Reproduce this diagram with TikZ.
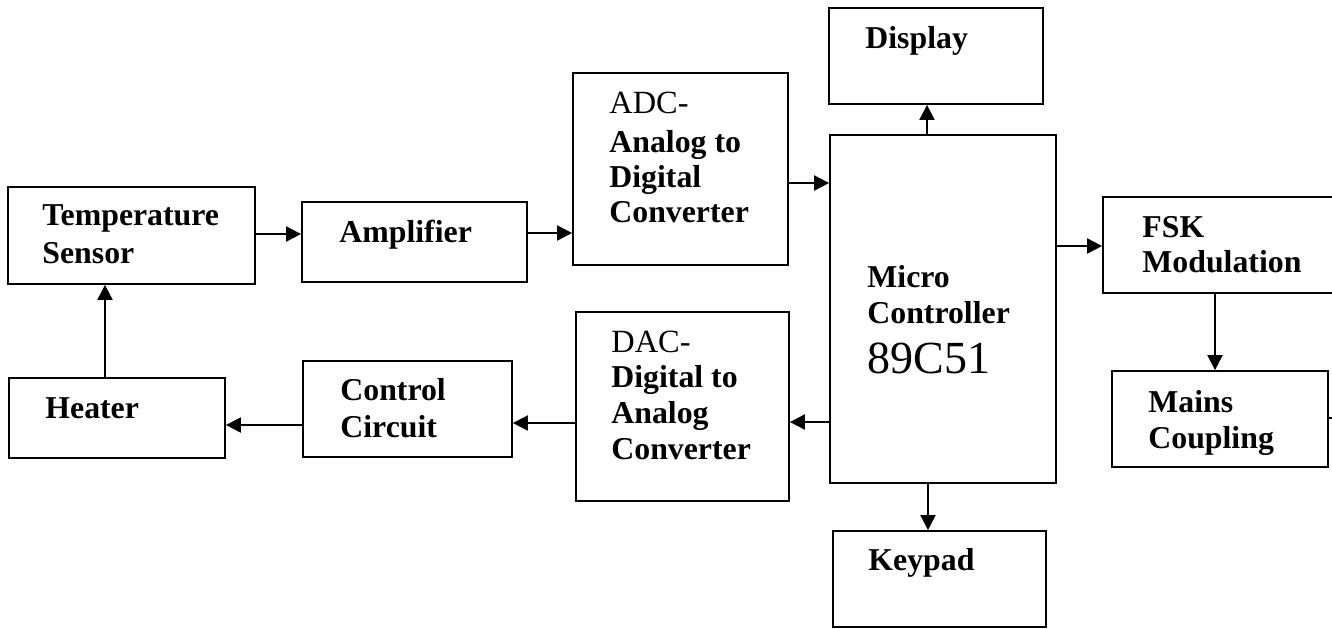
\documentclass[tikz,border=0pt]{standalone}
\usepackage{fontspec}
\setmainfont{Liberation Serif}
\usetikzlibrary{arrows.meta}

% a block drawn from its corner coordinates: name, x1, y1, x2, y2
\newcommand\blk[5]{%
  \node[blockbox, minimum width={(#4-#2)*0.5pt}, minimum height={(#5-#3)*0.5pt}]
    (#1) at ({(#2+#4)/2},{(#3+#5)/2}) {};}

\tikzset{
  blockbox/.style={draw, rectangle, line width=0.9pt, inner sep=0pt},
  % labels are placed by the baseline of their last line
  lbl/.style={anchor=base west, inner sep=0pt, align=left,
    font=\fontsize{15.9}{18}\selectfont\bfseries},
  plain/.style={anchor=base west, inner sep=0pt,
    font=\fontsize{16.2}{18}\selectfont},
  big/.style={anchor=base west, inner sep=0pt,
    font=\fontsize{23}{25}\selectfont},
  arr/.style={line width=1pt, -{Triangle[length=7.5pt,width=7.5pt]}},
  wire/.style={line width=1pt}
}

\begin{document}
\begin{tikzpicture}[x=0.5pt,y=-0.5pt]
\useasboundingbox (0,0) rectangle (1332,628);

% blocks
\blk{temp}{8}{187}{255}{284}
\blk{amp}{302}{202}{527}{282}
\blk{adc}{573}{73}{788}{265}
\blk{disp}{829}{8}{1043}{104}
\blk{mcu}{830}{135}{1056}{483}
\blk{fsk}{1103}{197}{1350}{293}
\blk{mains}{1112}{371}{1328}{467}
\blk{heater}{9}{378}{225}{458}
\blk{ctrl}{303}{361}{512}{457}
\blk{dac}{576}{312}{789}{501}
\blk{keypad}{833}{531}{1046}{627}

% labels
\node[lbl] (tTemp) at (42,263) {Temperature\\[1pt]Sensor};
\node[lbl] (tAmp) at (339,242) {Amplifier};
\node[plain] (tAdc) at (609,113) {ADC-};
\node[lbl] (tAdc2) at (609,222) {Analog to\\[-0.5pt]Digital\\[-0.5pt]Converter};
\node[lbl] (tDisp) at (865,48) {Display};
\node[lbl] (tMcu) at (867,323) {Micro\\Controller};
\node[big] (tMcu2) at (867,373) {89C51};
\node[lbl] (tFsk) at (1142,272) {FSK\\[-0.5pt]Modulation};
\node[lbl] (tMains) at (1148,448) {Mains\\Coupling};
\node[lbl] (tHeat) at (45,418) {Heater};
\node[lbl] (tCtrl) at (340,437) {Control\\[0.5pt]Circuit};
\node[plain] (tDac) at (611,352) {DAC-};
\node[lbl] (tDac2) at (611,459) {Digital to\\Analog\\Converter};
\node[lbl] (tKey) at (868,570) {Keypad};

% connectors
\draw[arr] (temp.east |- 0,234) -- (amp.west |- 0,234);
\draw[arr] (amp.east |- 0,233) -- (adc.west |- 0,233);
\draw[arr] (adc.east |- 0,183) -- (mcu.west |- 0,183);
\draw[arr] (mcu.north -| 927,0) -- (disp.south -| 927,0);
\draw[arr] (mcu.east |- 0,246) -- (fsk.west |- 0,246);
\draw[arr] (fsk.south -| 1215,0) -- (mains.north -| 1215,0);
\draw[arr] (mcu.west |- 0,422) -- (dac.east |- 0,422);
\draw[arr] (dac.west |- 0,423) -- (ctrl.east |- 0,423);
\draw[arr] (ctrl.west |- 0,425) -- (heater.east |- 0,425);
\draw[arr] (heater.north -| 105,0) -- (temp.south -| 105,0);
\draw[arr] (mcu.south -| 928,0) -- (keypad.north -| 928,0);
\coordinate (mainsOut) at (1340,418);
\draw[wire] (mains.east |- mainsOut) -- (mainsOut);
\end{tikzpicture}
\end{document}
